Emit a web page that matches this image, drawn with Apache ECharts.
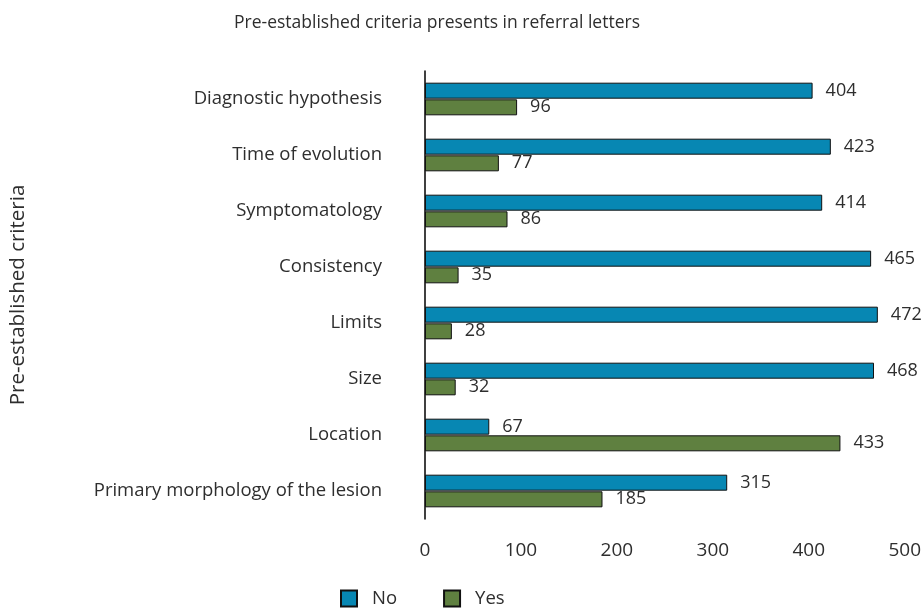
<!DOCTYPE html>
<html>
<head>
    <meta charset="UTF-8">
    <title>Pre-established criteria</title>
    <style>
        html, body { margin: 0; padding: 0; width: 100%; height: 100%; overflow: hidden; background: #fff; }
        #main { width: 924px; height: 608px; }
    </style>
    <script src="https://cdn.jsdelivr.net/npm/echarts@6/dist/echarts.min.js"></script>
</head>
<body>
    <div id="main"></div>
    <script>
        // categories listed top to bottom
        const categories = [
            'Diagnostic hypothesis',
            'Time of evolution',
            'Symptomatology',
            'Consistency',
            'Limits',
            'Size',
            'Location',
            'Primary morphology of the lesion'
        ];
        const noValues = [404, 423, 414, 465, 472, 468, 67, 315];
        const yesValues = [96, 77, 86, 35, 28, 32, 433, 185];

        const font = '"Open Sans", sans-serif';
        const txt = '#2e2e2e';
        const chart = echarts.init(document.getElementById('main'));

        const label = {
            show: true,
            position: 'right',
            distance: 13,
            color: txt,
            fontSize: 18,
            fontFamily: font
        };

        chart.setOption({
            animation: false,
            textStyle: { fontFamily: font },
            title: {
                text: 'Pre-established criteria presents in referral letters',
                left: 432,
                textAlign: 'center',
                top: 9,
                textStyle: { fontSize: 17.5, fontWeight: 'normal', color: txt, fontFamily: font }
            },
            legend: {
                top: 584,
                left: 335,
                itemWidth: 16,
                itemHeight: 16,
                itemGap: 46,
                icon: 'rect',
                textStyle: { fontSize: 18.5, color: txt, fontFamily: font, padding: [0, 0, 0, 10] },
                data: ['No', 'Yes']
            },
            grid: { left: 424, right: 19, top: 71, bottom: 89 },
            xAxis: {
                type: 'value',
                min: 0,
                max: 500,
                interval: 100,
                axisLine: { show: false },
                axisTick: { show: false },
                splitLine: { show: false },
                axisLabel: { fontSize: 19, color: txt, margin: 22, fontFamily: font }
            },
            yAxis: {
                type: 'category',
                inverse: true,
                data: categories,
                name: 'Pre-established criteria',
                nameLocation: 'middle',
                nameRotate: 90,
                nameGap: 396,
                nameTextStyle: { fontSize: 20.5, color: txt, fontFamily: font },
                axisLine: { show: true, lineStyle: { color: '#000', width: 1.5 } },
                axisTick: { show: false },
                axisLabel: { fontSize: 18.5, color: txt, margin: 43, fontFamily: font }
            },
            series: [
                {
                    name: 'No',
                    type: 'bar',
                    data: noValues,
                    barWidth: 16,
                    barGap: '4%',
                    itemStyle: { color: '#0787b3', borderColor: '#111', borderWidth: 1 },
                    label: label
                },
                {
                    name: 'Yes',
                    type: 'bar',
                    data: yesValues,
                    barWidth: 16,
                    itemStyle: { color: '#5f8040', borderColor: '#111', borderWidth: 1 },
                    label: label
                }
            ]
        });

        window.addEventListener('resize', () => chart.resize());
    </script>
</body>
</html>
